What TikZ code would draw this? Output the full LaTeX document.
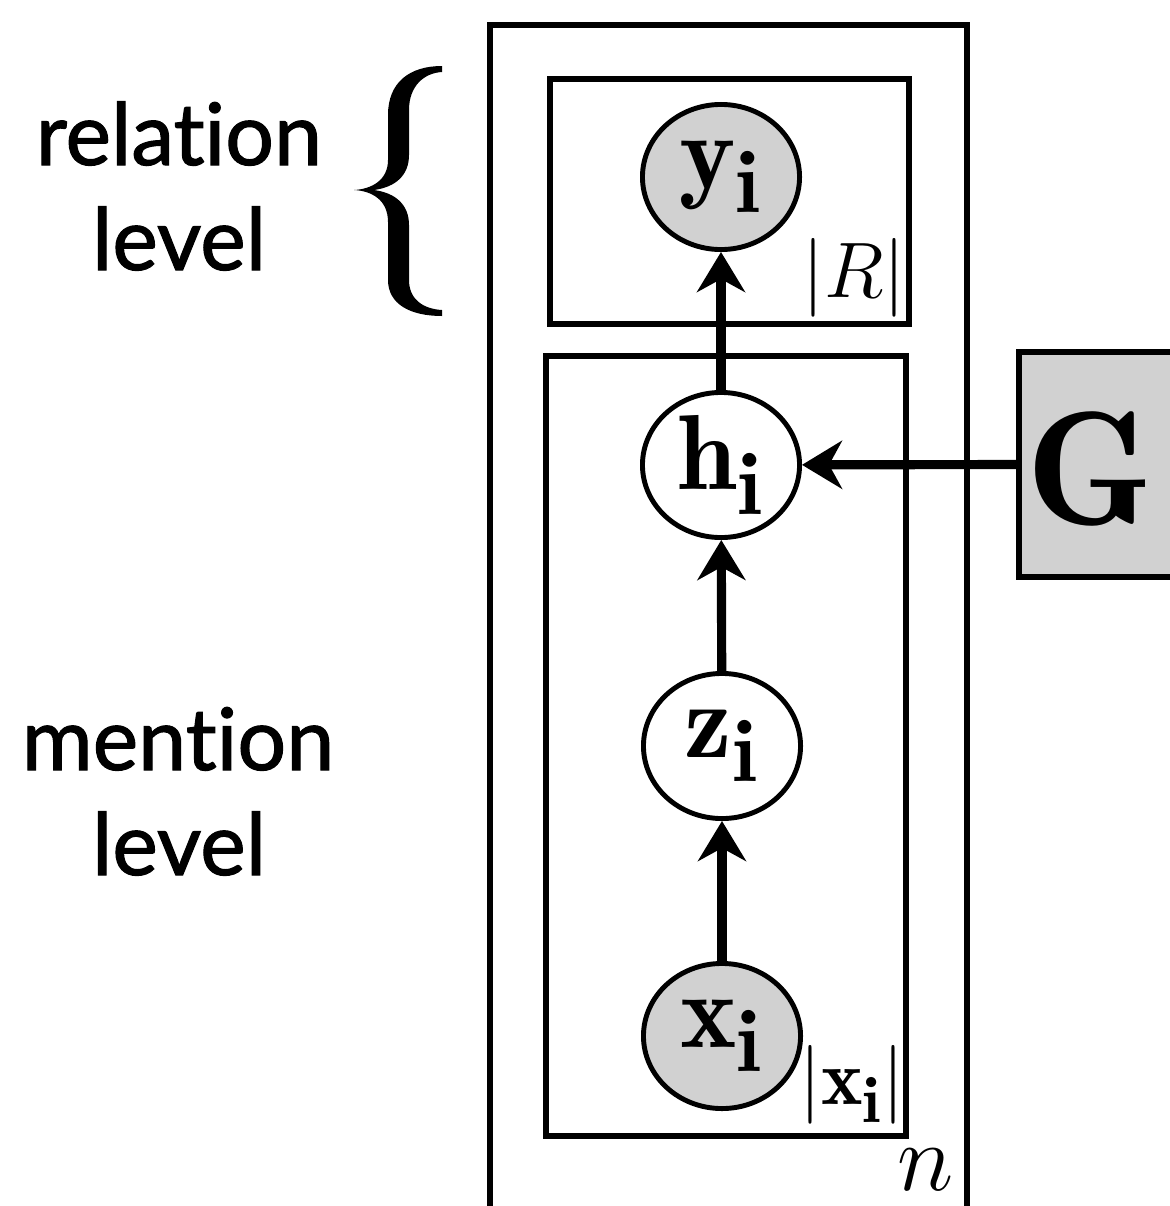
\documentclass[tikz,border=0pt]{standalone}
\usepackage{graphicx}
\usepackage{fontspec}
\newfontfamily\labelfont[Ligatures={NoCommon,NoDiscretionary,NoRare},FakeBold=1.3]{Lato}
\usetikzlibrary{shapes.geometric,arrows.meta}
\definecolor{obsgray}{RGB}{209,209,209}
\newcommand{\msz}[2]{\scalebox{#1}{\Huge$#2$}}
\begin{document}
\begin{tikzpicture}[x=0.01cm,y=-0.01cm,
  plate/.style={draw,line width=1.7pt},
  rv/.style={ellipse,draw,line width=1.4pt,minimum width=1.57cm,minimum height=1.45cm,inner sep=0pt},
  obs/.style={rv,fill=obsgray},
  lat/.style={rv,fill=white},
  conn/.style={line width=2.6pt,-{Stealth[length=0.4cm,width=0.48cm,inset=0.13cm]}},
  side/.style={font=\labelfont\fontsize{24.5}{28}\selectfont,anchor=base,inner sep=0pt},
  platelabel/.style={inner sep=0pt}]
\useasboundingbox (0,0) rectangle (1169,1206);
% plates
\draw[plate] (490,25) rectangle (967,1220);
\draw[plate] (550,79) rectangle (909,324);
\draw[plate] (546,356) rectangle (906,1136);
% G box
\node[draw,line width=1.7pt,fill=obsgray,minimum width=1.85cm,minimum height=2.25cm,inner sep=0pt] (Gbox) at (1111.5,464.5) {};
\node[inner sep=0pt] (Glab) at (1090,469) {\msz{1.85}{\mathbf{G}}};
% variables
\node[obs] (y) at (721,177) {\msz{1.22}{\mathbf{y}_{\mathbf{i}}}};
\node[lat] (h) at (721,465) {\msz{1.22}{\mathbf{h}_{\mathbf{i}}}};
\node[lat] (z) at (722,746) {\msz{1.22}{\mathbf{z}_{\mathbf{i}}}};
\node[obs] (x) at (722,1036) {\msz{1.22}{\mathbf{x}_{\mathbf{i}}}};
% plate labels
\node[platelabel] (R) at (854,278) {\msz{0.9}{|R|}};
\node[platelabel] (xl) at (852,1085) {\msz{0.9}{|\mathbf{x}_{\mathbf{i}}|}};
\node[platelabel] (n) at (926,1170) {\msz{1.1}{n}};
% edges
\draw[conn] (x) -- (z);
\draw[conn] (z) -- (h);
\draw[conn] (h) -- (y);
\draw[conn] (Gbox.west) -- (h);
% side labels
\node[side] (rel1) at (179,165) {relation};
\node[side] (rel2) at (179,270) {level};
\node[side] (men1) at (178,770) {mention};
\node[side] (men2) at (179,875) {level};
% brace
\fill (442,66) .. controls (410,66) and (388,82) .. (388,115)
  -- (388,160) .. controls (388,180) and (372,189) .. (354,190)
  .. controls (372,191) and (388,200) .. (388,222)
  -- (388,280) .. controls (388,304) and (410,316) .. (442,316)
  -- (442,310) .. controls (424,309) and (409,300) .. (409,280)
  -- (409,225) .. controls (409,205) and (396,193) .. (374,190)
  .. controls (396,187) and (409,175) .. (409,155)
  -- (409,110) .. controls (409,86) and (424,73) .. (442,72) -- cycle;
\end{tikzpicture}
\end{document}
